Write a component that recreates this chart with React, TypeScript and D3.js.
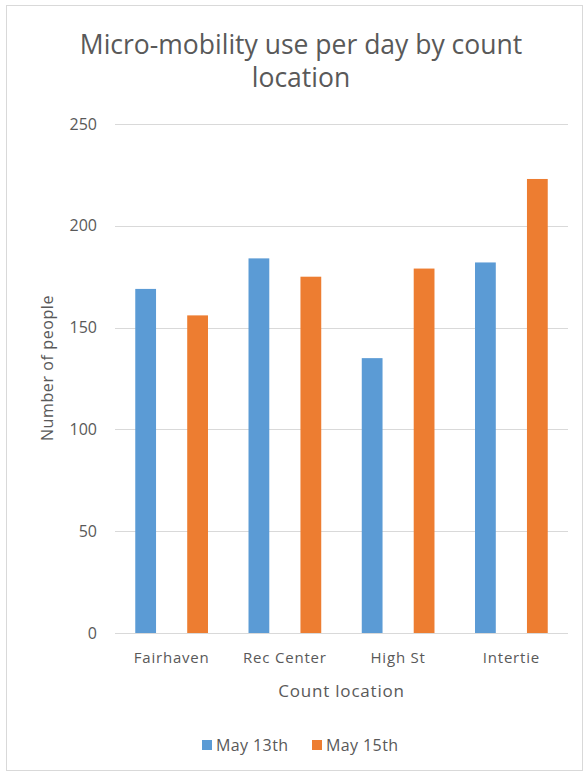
import React from "react";
import * as d3 from "d3";

const categories = ["Fairhaven", "Rec Center", "High St", "Intertie"];
const seriesNames = ["May 13th", "May 15th"];
const may13 = [169, 184, 135, 182];
const may15 = [156, 175, 179, 223];
const yTicks = [0, 50, 100, 150, 200, 250];
const colors = ["#5B9BD5", "#ED7D31"];

const W = 585;
const H = 777;
const plot = { left: 115, right: 568, top: 124, bottom: 633 };
const font = "'Open Sans', 'Noto Sans', sans-serif";
const textColor = "#595959";

export default function App() {
  const x = d3
    .scaleBand<string>()
    .domain(categories)
    .range([plot.left, plot.right])
    .paddingInner(0)
    .paddingOuter(0);
  const inner = d3
    .scaleBand<string>()
    .domain(seriesNames)
    .range([0, x.bandwidth()])
    .paddingInner(0.6)
    .paddingOuter(0.39);
  const y = d3.scaleLinear().domain([0, 250]).range([plot.bottom, plot.top]);
  const series = [may13, may15];

  return (
    <svg
      width={W}
      height={H}
      style={{ position: "absolute", left: 0, top: 0, background: "#fff" }}
      fontFamily={font}
    >
      <rect x={0} y={0} width={W} height={H} fill="#fff" />
      <rect x={6.5} y={5.5} width={576} height={765} fill="none" stroke="#d9d9d9" strokeWidth={1} />
      <text x={301} y={54} textAnchor="middle" fontSize={26.5} fill={textColor}>
        Micro-mobility use per day by count
      </text>
      <text x={301} y={87} textAnchor="middle" fontSize={26.5} fill={textColor}>
        location
      </text>
      {yTicks.map((t) => (
        <g key={t}>
          <line
            x1={plot.left}
            x2={plot.right}
            y1={Math.round(y(t)) + 0.5}
            y2={Math.round(y(t)) + 0.5}
            stroke="#d9d9d9"
            strokeWidth={1}
          />
          <text x={97} y={y(t) + 5.5} textAnchor="end" fontSize={16} fill={textColor}>
            {t}
          </text>
        </g>
      ))}
      {categories.map((c, i) => (
        <g key={c}>
          {series.map((s, j) => (
            <rect
              key={j}
              x={(x(c) as number) + (inner(seriesNames[j]) as number)}
              y={y(s[i])}
              width={inner.bandwidth()}
              height={y(0) - y(s[i])}
              fill={colors[j]}
            />
          ))}
          <text
            x={(x(c) as number) + x.bandwidth() / 2}
            y={663}
            textAnchor="middle"
            fontSize={15}
            letterSpacing={0.8}
            fill={textColor}
          >
            {c}
          </text>
        </g>
      ))}
      <text
        x={(plot.left + plot.right) / 2}
        y={697}
        textAnchor="middle"
        fontSize={17}
        letterSpacing={0.8}
        fill={textColor}
      >
        Count location
      </text>
      <text
        transform={`translate(53, 368) rotate(-90)`}
        textAnchor="middle"
        fontSize={16}
        letterSpacing={0.6}
        fill={textColor}
      >
        Number of people
      </text>
      {seriesNames.map((n, j) => {
        const lx = j === 0 ? 202 : 312;
        return (
          <g key={n}>
            <rect x={lx} y={740} width={10} height={10} fill={colors[j]} />
            <text x={lx + 14} y={751} fontSize={16} letterSpacing={0.4} fill={textColor}>
              {n}
            </text>
          </g>
        );
      })}
    </svg>
  );
}
